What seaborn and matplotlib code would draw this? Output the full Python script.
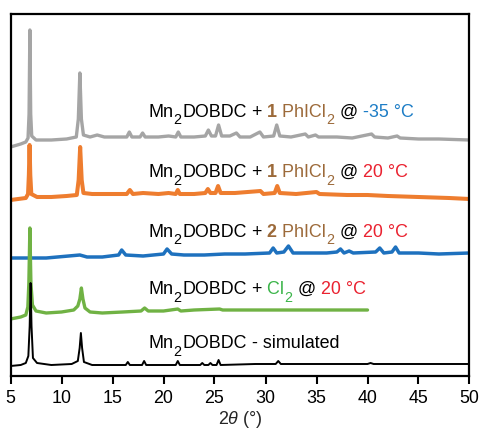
import numpy as np
import pandas as pd
import matplotlib
matplotlib.use("Agg")
import matplotlib.pyplot as plt
import seaborn as sns

# ---------------- data (intensity in arbitrary units) ----------------
gray_x = [5.0, 6.0, 6.5, 6.72, 6.82, 6.9, 6.98, 7.08, 7.5, 9.0, 10.5, 11.45, 11.65, 11.8, 11.95, 12.15,
          12.8, 13.5, 14.2, 15.5, 16.4, 16.65, 16.9, 17.7, 17.95, 18.2, 19.5, 20.5, 21.2, 21.45, 21.7,
          23.0, 24.1, 24.4, 24.7, 25.1, 25.4, 25.7, 26.5, 27.15, 27.5, 28.5, 29.45, 29.8, 30.8, 31.1,
          31.4, 32.5, 33.9, 34.2, 34.9, 35.2, 37.0, 38.5, 40.4, 40.7, 42.0, 42.9, 43.2, 45.0, 47.0, 50.0]
gray_y = [-3, 0, 2, 6, 30, 114, 30, 8, 4, 4, 5, 7, 25, 71, 25, 9,
          7, 9, 7, 7, 7, 12, 7, 7, 11, 7, 7, 8, 7, 12, 7,
          7, 8, 14, 8, 8, 19, 8, 8, 11, 7, 7, 12, 7, 8, 19,
          8, 7, 10, 7, 9, 7, 7, 6, 10, 7, 6, 8, 6, 5, 5, 4]

orange_x = [5.0, 6.5, 6.72, 6.8, 6.87, 6.94, 7.04, 7.6, 9.0, 10.5, 11.5, 11.68, 11.83, 11.98, 12.15, 13.0,
            14.5, 16.4, 16.7, 17.0, 18.0, 19.5, 20.5, 21.2, 21.4, 21.6, 23.0, 24.1, 24.35, 24.6, 25.1,
            25.35, 25.6, 27.0, 29.5, 29.8, 30.9, 31.15, 31.4, 33.0, 35.0, 35.3, 38.0, 40.0, 42.0, 45.0,
            48.0, 50.0]
orange_y = [0, 2, 6, 25, 55, 25, 6, 3, 3, 4, 5, 20, 53, 20, 7, 6,
            6, 6, 10, 6, 7, 6, 7, 6, 10, 6, 6, 7, 11, 7, 7,
            14, 7, 7, 9, 6, 7, 14, 7, 6, 8, 6, 5, 5, 4, 3,
            2, 1]

blue_x = [5.0, 7.0, 8.5, 11.8, 12.5, 14.0, 15.6, 15.9, 16.3, 18.0, 20.0, 20.35, 20.8, 22.0, 24.0, 26.0,
          28.0, 30.4, 30.75, 31.1, 31.8, 32.25, 32.7, 34.0, 36.0, 37.0, 37.35, 37.7, 38.2, 38.6, 40.8,
          41.2, 41.6, 42.4, 42.75, 43.1, 45.0, 47.0, 50.0]
blue_y = [0, 0, 0, 3, 1, 1, 3, 8, 3, 2, 4, 9, 4, 3, 3, 4,
          4, 5, 10, 5, 6, 12, 5, 5, 5, 6, 9, 5, 7, 5, 6,
          10, 5, 6, 11, 5, 5, 4, 5]

green_x = [5.0, 6.0, 6.5, 6.7, 6.8, 6.9, 7.0, 7.15, 7.5, 8.5, 10.0, 11.2, 11.6, 11.8, 11.95, 12.1,
           12.3, 12.8, 14.0, 16.0, 17.8, 18.15, 18.5, 20.0, 21.4, 21.7, 23.0, 25.5, 25.8, 28.0, 31.0,
           34.0, 37.0, 40.0]
green_y = [-6, -4, -2, 6, 30, 85, 30, 8, 2, 0, 1, 3, 7, 14, 25, 14,
           5, 1, 0, 1, 2, 5, 2, 2, 4, 2, 3, 4, 3, 3, 3,
           3, 3, 3]

black_x = [5.0, 6.0, 6.5, 6.75, 6.88, 6.97, 7.06, 7.2, 7.6, 9.0, 11.0, 11.6, 11.78, 11.9, 12.02, 12.2,
           13.0, 16.3, 16.5, 16.7, 17.9, 18.1, 18.3, 21.2, 21.4, 21.6, 23.6, 23.8, 24.0, 24.4, 24.6,
           24.8, 25.2, 25.4, 25.6, 29.0, 31.0, 31.25, 31.5, 36.0, 40.0, 40.3, 40.6, 45.0, 50.0]
black_y = [0, 1, 3, 10, 40, 83, 40, 8, 3, 1, 2, 5, 18, 33, 18, 4,
           1, 1, 4, 1, 1, 5, 1, 1, 5, 1, 1, 3, 1, 1, 3,
           1, 1, 6, 1, 2, 2, 5, 2, 2, 2, 3, 2, 2, 2]

two_theta_ticks = [5, 10, 15, 20, 25, 30, 35, 40, 45, 50]

# ---------------- style ----------------
sns.set_style("white")
plt.rcParams["font.family"] = ["Liberation Sans", "DejaVu Sans"]
plt.rcParams["mathtext.fontset"] = "custom"
plt.rcParams["mathtext.rm"] = "Liberation Sans"
plt.rcParams["mathtext.it"] = "Liberation Sans:italic"
plt.rcParams["mathtext.bf"] = "Liberation Sans:bold"
plt.rcParams["mathtext.default"] = "regular"

FS = 12.9
c_gray = "#a5a5a5"
c_orange = "#ee7d2f"
c_blue = "#1e71be"
c_green = "#70b244"
c_black = "#000000"
c_brown = "#9c6a3a"
c_tblue = "#1d7dc6"
c_red = "#ea2230"
c_tgreen = "#3cb54a"

fig = plt.figure(figsize=(4.81, 4.29), dpi=100)
ax = fig.add_axes([10.5 / 481, 1 - 376 / 429, 459 / 481, 362 / 429])

series = [
    (gray_x, gray_y, 232, c_gray, 2.4),
    (orange_x, orange_y, 176, c_orange, 2.9),
    (blue_x, blue_y, 118, c_blue, 2.5),
    (green_x, green_y, 63, c_green, 2.4),
    (black_x, black_y, 10, c_black, 1.4),
]
for xs, ys, off, col, lw in series:
    df = pd.DataFrame({"x": xs, "y": np.asarray(ys, float) + off})
    sns.lineplot(data=df, x="x", y="y", ax=ax, color=col, lw=lw, estimator=None,
                 sort=False, solid_joinstyle="round")

ax.set_xlim(5, 50)
ax.set_ylim(0, 362)
ax.set_xticks(two_theta_ticks)
ax.set_yticks([])
ax.set_ylabel("")
ax.set_xlabel(r"2$\mathit{\theta}$ (°)", fontsize=FS, labelpad=1.2)
ax.tick_params(axis="x", direction="out", length=6, width=1.5, pad=4,
               labelsize=FS, bottom=True, colors="black")
for s in ax.spines.values():
    s.set_visible(True)
    s.set_linewidth(1.6)
    s.set_color("black")

# ---------------- multi-coloured labels ----------------
K = "black"
labels = [
    (259, [("Mn", K, "normal", False), ("2", K, "normal", True), ("DOBDC", K, "normal", False),
           (" +", K, "normal", False), (" 1", c_brown, "bold", False),
           (" PhICl", c_brown, "normal", False), ("2", c_brown, "normal", True),
           (" @", K, "normal", False), (" -35 °C", c_tblue, "normal", False)]),
    (199, [("Mn", K, "normal", False), ("2", K, "normal", True), ("DOBDC", K, "normal", False),
           (" +", K, "normal", False), (" 1", c_brown, "bold", False),
           (" PhICl", c_brown, "normal", False), ("2", c_brown, "normal", True),
           (" @", K, "normal", False), (" 20 °C", c_red, "normal", False)]),
    (139, [("Mn", K, "normal", False), ("2", K, "normal", True), ("DOBDC", K, "normal", False),
           (" +", K, "normal", False), (" 2", c_brown, "bold", False),
           (" PhICl", c_brown, "normal", False), ("2", c_brown, "normal", True),
           (" @", K, "normal", False), (" 20 °C", c_red, "normal", False)]),
    (82, [("Mn", K, "normal", False), ("2", K, "normal", True), ("DOBDC", K, "normal", False),
          (" +", K, "normal", False), (" Cl", c_tgreen, "normal", False), ("2", c_tgreen, "normal", True),
          (" @", K, "normal", False), (" 20 °C", c_red, "normal", False)]),
    (28, [("Mn", K, "normal", False), ("2", K, "normal", True), ("DOBDC", K, "normal", False),
          (" - simulated", K, "normal", False)]),
]

fig.canvas.draw()
renderer = fig.canvas.get_renderer()
label_x = 18.5
W, H = fig.bbox.width, fig.bbox.height
for ybase, segs in labels:
    x_disp, y_disp = ax.transData.transform((label_x, ybase))
    for txt, col, wt, sub in segs:
        if sub:
            t = fig.text((x_disp + 0.5) / W, (y_disp - 7.5) / H, txt, color=col,
                         fontweight=wt, fontsize=FS * 0.8, ha="left", va="baseline")
        else:
            t = fig.text(x_disp / W, y_disp / H, txt, color=col,
                         fontweight=wt, fontsize=FS, ha="left", va="baseline")
        bb = t.get_window_extent(renderer)
        x_disp = bb.x1 + (0.5 if sub else 0)

fig.savefig("out.png", dpi=100)
